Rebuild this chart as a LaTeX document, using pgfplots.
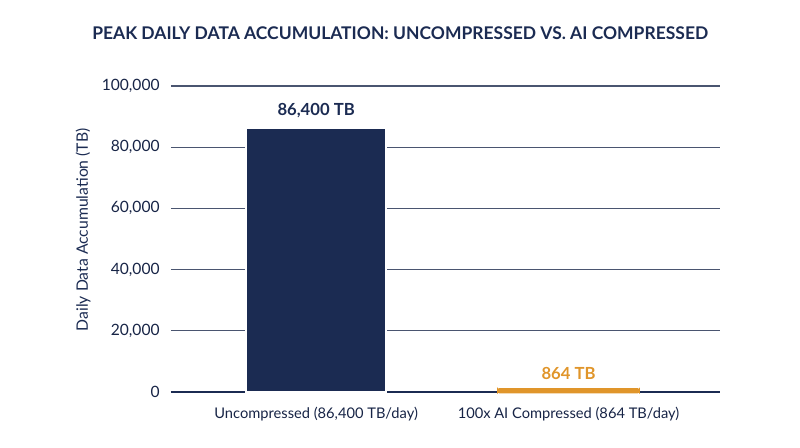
\documentclass[border=0pt]{standalone}
\usepackage{fontspec}
\setmainfont{Lato}
\usepackage{pgfplots}
\pgfplotsset{compat=1.18}
\definecolor{navy}{HTML}{1B2B52}
\definecolor{gold}{HTML}{E0952A}
\definecolor{gridc}{HTML}{4A5570}
\begin{document}
\begin{tikzpicture}
\begin{axis}[
    scale only axis,
    width=411.75pt, height=229.5pt,
    ymin=0, ymax=100000,
    xmin=-0.575, xmax=1.6,
    ytick={0,20000,40000,60000,80000,100000},
    yticklabels={0, {20,000}, {40,000}, {60,000}, {80,000}, {100,000}},
    scaled y ticks=false,
    xtick={0,1},
    xticklabels={{Uncompressed (86,400 TB/day)}, {100x AI Compressed (864 TB/day)}},
    ymajorgrids,
    grid style={gridc, line width=0.8pt},
    axis x line*=bottom, axis y line*=left,
    y axis line style={draw=none},
    x axis line style={navy, line width=0.9pt, -},
    major tick length=0pt,
    tick label style={text=navy!85!black},
    yticklabel style={font=\fontsize{11.7}{14}\selectfont, xshift=-5pt},
    xticklabel style={font=\fontsize{11}{13}\selectfont, yshift=-8pt},
    ylabel={Daily Data Accumulation (TB)},
    every axis y label/.style={at={(rel axis cs:-0.16,0.53)}, rotate=90, anchor=center},
    ylabel style={font=\fontsize{11.8}{14}\selectfont, text=navy},
    title={PEAK DAILY DATA ACCUMULATION: UNCOMPRESSED VS. AI COMPRESSED},
    title style={font=\bfseries\fontsize{13.1}{15}\selectfont, text=navy, yshift=25pt, xshift=-34pt},
    ybar, bar width=105pt, bar shift=0pt,
    nodes near coords,
    point meta=explicit symbolic,
    nodes near coords style={font=\bfseries\fontsize{12.5}{14}\selectfont, yshift=3pt},
    clip=false,
]
\addplot[fill=navy, draw=white, line width=1.5pt,
    nodes near coords style={text=navy}]
    coordinates {(0,86400) [86,400 TB]};
\addplot[fill=gold, draw=gold, line width=2pt, rounded corners=1pt,
    nodes near coords style={text=gold, yshift=0pt}]
    coordinates {(1,864) [864 TB]};
\end{axis}
\path[use as bounding box] ([xshift=-128.25pt, yshift=-41.25pt]current axis.south west)
    rectangle ([xshift=471.75pt, yshift=294pt]current axis.south west);
\end{tikzpicture}
\end{document}
